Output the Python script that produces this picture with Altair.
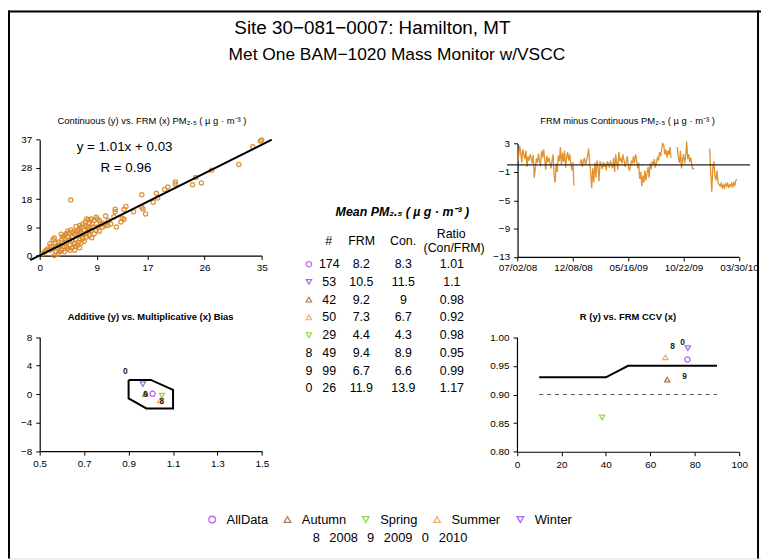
import altair as alt
import pandas as pd

W, H = 760, 553
FONT = "Liberation Sans"

# ---------------- data ----------------
SEASONS = ["AllData", "Autumn", "Spring", "Summer", "Winter"]
SEASON_COLORS = ["#A020F0", "#8B4513", "#66CC00", "#F08A24", "#8A2BE2"]
SEASON_SHAPES = ["circle", "triangle-up", "triangle-down", "triangle-up", "triangle-down"]

# Continuous (y) vs FRM (x)
frm_vals = [4.9, 33.6, 35.0, 34.8, 31.4, 27.1, 24.6, 24.1, 25.5, 21.4, 21.4, 20.2, 19.7, 18.4, 16.1, 18.6,
            17.9, 16.1, 16.3, 16.7, 14.8, 13.6, 13.3, 11.9, 11.9, 13.0, 13.3, 12.8, 12.1, 11.7, 10.4, 10.8,
            10.3, 9.6, 9.4, 9.1, 8.9, 8.1, 7.7, 7.4, 7.2, 6.8, 6.6, 6.3, 5.7, 5.2, 4.6, 4.2, 3.9, 3.4, 3.6,
            2.3, 2.1, 2.9, 1.6, 1.0, 1.6, 2.3, 2.6, 3.1, 3.4, 3.9, 4.4, 4.8, 5.1, 5.5, 6.0, 6.1, 6.5, 6.8,
            7.0, 7.4, 7.8, 8.2, 8.6, 8.9, 9.4, 9.9, 10.7, 11.2, 7.8, 7.0, 6.3, 5.7, 4.9, 4.4, 5.2, 4.7, 4.2,
            3.6, 3.1, 2.6, 2.1, 0.8, 0.5, 2.9, 4.2, 4.8, 5.7, 6.3, 6.5, 7.3, 8.1, 8.5, 9.1, 7.3, 5.5, 3.5,
            2.5, 1.8, 1.3, 4.4, 6.0, 6.8, 7.6, 8.3, 7.8, 8.6, 9.9, 5.1, 5.6, 6.3, 3.5, 3.9, 2.9, 5.5, 6.7, 7.6]
con_vals = [17.7, 34.7, 36.9, 36.6, 29.1, 27.2, 24.9, 22.6, 23.2, 23.5, 22.8, 21.9, 21.1, 19.9, 19.4, 18.4,
            17.0, 15.4, 14.9, 13.3, 14.0, 15.7, 14.7, 14.8, 14.0, 11.9, 11.6, 10.7, 9.1, 12.4, 12.6, 11.2,
            9.6, 10.1, 11.2, 11.7, 12.2, 11.7, 11.4, 11.7, 10.7, 10.1, 9.1, 8.5, 7.5, 7.5, 7.2, 7.0, 6.4, 6.8, 5.9,
            5.6, 5.1, 4.3, 3.8, 1.7, 1.7, 0.0, 1.2, 1.2, 1.9, 2.7, 2.2, 3.3, 2.5, 3.8, 3.3, 4.3, 4.0, 5.4,
            4.6, 5.9, 6.4, 5.7, 7.0, 8.0, 7.8, 9.1, 9.6, 10.1, 8.5, 8.0, 9.6, 9.3, 8.2, 7.8, 5.9, 5.1, 4.3,
            4.0, 3.3, 2.7, 2.2, 1.2, 0.6, 3.3, 2.7, 1.7, 5.1, 6.4, 7.5, 7.0, 8.0, 9.1, 9.1, 9.6, 6.8, 5.1,
            4.0, 3.0, 2.2, 5.9, 8.0, 7.0, 7.8, 10.1, 10.3, 11.2, 10.3, 4.9, 3.0, 2.5, 1.7, 1.2, 0.4, 1.7, 5.9, 9.1]
fit_slope, fit_intercept = 1.01, 0.03
fit_span = [-1.5, 36.6]

# FRM minus Continuous time series (1-in-3 day sampling, segments between gaps)
ts_ref = "2008-07-02"
ts_seg_starts = ["2008-07-02", "2008-12-29", "2009-10-04", "2010-01-05"]
ts_seg_values = [
    [0.5, 1.2, 2.7, 1.8, 0.3, 2.2, 1.5, 0.8, 2.0, -0.3,
     1.2, 0.6, 1.5, 1.0, 0.2, 1.4, -1.8, -0.5, 0.9, 0.3,
     1.6, 0.5, -0.2, 2.0, 1.0, 2.2, 0.8, -0.7, 1.3, 0.4,
     1.0, 0.2, -0.5, 0.6, 1.5, -1.5, -2.5, 0.2, -1.0, 1.3,
     0.5, 2.5, 0.0, 1.7, 0.4, 2.0, -0.4, 1.1, 1.8, 0.6,
     1.5, 0.2, -0.8, 0.4, -2.9],
    [0.2, 0.8, -0.3, 0.5, 1.0, 0.0, 0.6, 1.2, 2.3, 0.4, -1.0,
     -3.3, -0.5, -2.5, 0.3, -1.8, 0.6, -0.2, -2.3, 0.5, 0.0,
     -0.6, 0.4, -0.3, 0.2, -0.8, 0.5, 0.1, -0.4, 0.6, 0.0,
     -0.5, 1.0, -1.0, 1.5, 0.3, -0.7, 1.8, 0.5, 0.9, 0.2,
     1.5, 0.6, -0.3, 0.4, 1.2, 0.0, -0.8, -0.3, 0.5, 0.3,
     1.2, 0.2, 1.5, 0.8, -0.5, 0.3, -2.0, -1.0, -3.0, -1.5,
     -2.5, -0.8, -2.2, -1.2, -0.3, -1.8, 0.2, -0.6, 0.5, 0.0,
     0.8, -0.4, 0.3, 1.0, 0.6, 1.8, 1.2, 2.2, 3.0, 2.8,
     1.5, 2.2, 1.0, 2.0, 1.4, 2.5, 1.0],
    [2.5, 1.0, 0.3, 2.0, -0.5, 0.8, 1.5, 0.2, 1.2, 3.3, 0.8, 1.5, 0.4, 1.0, -0.2, -0.6, -0.5],
    [2.3, -1.0, -3.8, -0.5, 0.5, -1.5, -2.2, -0.8, -2.5, -2.8, -3.0, -2.6, -3.2, -2.8, -3.3,
     -2.7, -3.0, -2.5, -3.3, -2.8, -3.0, -2.6, -3.2, -2.4, -3.0, -2.2, -2.0],
]
ts_zero_span = [-30, 668]
ts_tick_days = [0, 159, 318, 477, 636]

# Additive vs multiplicative bias
bias_slope = [1.008, 0.975, 1.05, 1.042, 0.964]
bias_int = [0.05, 0.05, -0.2, -0.85, 1.4]
bias_year_lab = ["8", "9", "0"]
bias_year_x = [1.05, 0.976, 0.885]
bias_year_y = [-1.0, 0.05, 3.3]
poly_x = [0.9, 1.0, 1.1, 1.1, 0.98, 0.9, 0.9]
poly_y = [2.0, 2.0, 0.6, -2.0, -2.0, -0.6, 2.0]

# R vs FRM CCV
ccv_vals = [76.7, 67.6, 38.3, 66.8, 76.9]
r_vals = [0.961, 0.926, 0.86, 0.965, 0.981]
ccv_year_lab = ["8", "9", "0"]
ccv_year_x = [70.0, 75.4, 74.5]
ccv_year_y = [0.985, 0.933, 0.992]
goal_x = [10, 40, 50, 90]
goal_y = [0.93, 0.93, 0.95, 0.95]
dash_x = [10, 90]
dash_y = [0.9, 0.9]

# Table of means
tab_key = ["AllData", "Winter", "Autumn", "Summer", "Spring", "8", "9", "0"]
tab_n = [174, 53, 42, 50, 29, 49, 99, 26]
tab_frm = [8.2, 10.5, 9.2, 7.3, 4.4, 9.4, 6.7, 11.9]
tab_con = [8.3, 11.5, 9, 6.7, 4.3, 8.9, 6.6, 13.9]
tab_ratio = [1.01, 1.1, 0.98, 0.92, 0.98, 0.95, 0.99, 1.17]

year_legend = ["8", "2008", "9", "2009", "0", "2010"]

# ---------------- helpers ----------------
LEG = alt.Legend(orient="none", legendX=199.6, legendY=507, direction="horizontal", title=None,
                 labelFontSize=13, labelFont=FONT, labelColor="black", symbolSize=45,
                 symbolStrokeWidth=1.3, labelOffset=8, columnPadding=13, padding=0)
COLOR = alt.Color("season:N", scale=alt.Scale(domain=SEASONS, range=SEASON_COLORS), legend=LEG)
SHAPE = alt.Shape("season:N", scale=alt.Scale(domain=SEASONS, range=SEASON_SHAPES), legend=LEG)


def axis(values, orient, offset, fmt=None, expr=None, pad=3):
    kw = dict(values=values, orient=orient, offset=offset, title=None, grid=False,
              labelFlush=False, labelOverlap=False, tickSize=4, labelPadding=pad,
              domainColor="black", tickColor="black", labelColor="black",
              labelFontSize=10, labelFont=FONT, domainWidth=1.2, tickWidth=1)
    if fmt:
        kw["format"] = fmt
    if expr:
        kw["labelExpr"] = expr
    return alt.Axis(**kw)


def note(text, x, y, size=9.5, weight="normal", style="normal", align="center", baseline="middle"):
    return alt.Chart(pd.DataFrame({"t": [text]})).mark_text(
        font=FONT, fontSize=size, fontWeight=weight, fontStyle=style, align=align,
        baseline=baseline, color="black"
    ).encode(text="t:N", x=alt.value(x), y=alt.value(y))


# ---------------- panel 1: scatter ----------------
sc_df = pd.DataFrame({"frm": frm_vals, "con": con_vals})
fit_df = pd.DataFrame({"frm": fit_span, "con": [fit_slope * v + fit_intercept for v in fit_span]})
X1 = alt.X("frm:Q", scale=alt.Scale(domain=[0, 35], range=[32, 256], zero=False, nice=False),
           axis=axis([0, 9, 17, 26, 35], "bottom", 247.3 - H, fmt="d", pad=3))
Y1 = alt.Y("con:Q", scale=alt.Scale(domain=[0, 37], range=[247.3, 130.3], zero=False, nice=False),
           axis=axis([0, 9, 18, 28, 37], "left", -32, fmt="d", pad=4))
p1 = alt.layer(
    alt.Chart(sc_df).mark_point(shape="circle", filled=False, color="#DA8A2C", size=18, strokeWidth=1.3,
                                opacity=0.9).encode(x=X1, y=Y1),
    alt.Chart(fit_df).mark_line(color="black", strokeWidth=2).encode(x=X1, y=Y1),
)

# ---------------- panel 2: time series ----------------
ref = pd.Timestamp(ts_ref)
rows = []
for si, (start, vals) in enumerate(zip(ts_seg_starts, ts_seg_values)):
    d0 = (pd.Timestamp(start) - ref).days
    for i, v in enumerate(vals):
        rows.append({"day": d0 + 3 * i, "diff": v, "seg": si})
ts_df = pd.DataFrame(rows)
zero_df = pd.DataFrame({"day": ts_zero_span, "diff": [0, 0]})
X2 = alt.X("day:Q", scale=alt.Scale(domain=[0, 636], range=[514.3, 737.7], zero=False, nice=False),
           axis=axis(ts_tick_days, "bottom", 248.7 - H, pad=2,
                     expr="timeFormat(datetime(2008, 6, 2 + datum.value), '%m/%d/%y')"))
Y2 = alt.Y("diff:Q", scale=alt.Scale(domain=[-13, 3], range=[248.7, 134.3], zero=False, nice=False),
           axis=axis([3, -1, -5, -9, -13], "left", -514.3, fmt="d", pad=4))
p2 = alt.layer(
    alt.Chart(ts_df).mark_line(color="#DF8618", strokeWidth=1.3, opacity=0.9).encode(
        x=X2, y=Y2, detail="seg:N"),
    alt.Chart(zero_df).mark_line(color="#222222", strokeWidth=1.3).encode(x=X2, y=Y2),
)

# ---------------- panel 3: bias ----------------
bias_df = pd.DataFrame({"slope": bias_slope, "inter": bias_int, "season": SEASONS})
bias_yr = pd.DataFrame({"slope": bias_year_x, "inter": bias_year_y, "lab": bias_year_lab})
poly_df = pd.DataFrame({"slope": poly_x, "inter": poly_y, "i": list(range(len(poly_x)))})
X3 = alt.X("slope:Q", scale=alt.Scale(domain=[0.5, 1.5], range=[32, 256.3], zero=False, nice=False),
           axis=axis([0.5, 0.7, 0.9, 1.1, 1.3, 1.5], "bottom", 444.7 - H, fmt=".1f", pad=4))
Y3 = alt.Y("inter:Q", scale=alt.Scale(domain=[-8, 8], range=[444.7, 329.7], zero=False, nice=False),
           axis=axis([8, 4, 0, -4, -8], "left", -32, fmt="d", pad=4))
p3 = alt.layer(
    alt.Chart(poly_df).mark_line(color="black", strokeWidth=2).encode(x=X3, y=Y3, order="i:Q"),
    alt.Chart(bias_df).mark_point(filled=False, size=28, strokeWidth=1.3).encode(
        x=X3, y=Y3, color=COLOR, shape=SHAPE),
    alt.Chart(bias_yr).mark_text(font=FONT, fontSize=8.5, fontWeight="bold", color="#222222").encode(
        x=X3, y=Y3, text="lab:N"),
)

# ---------------- panel 4: R vs CCV ----------------
ccv_df = pd.DataFrame({"ccv": ccv_vals, "r": r_vals, "season": SEASONS})
ccv_yr = pd.DataFrame({"ccv": ccv_year_x, "r": ccv_year_y, "lab": ccv_year_lab})
goal_df = pd.DataFrame({"ccv": goal_x, "r": goal_y})
dash_df = pd.DataFrame({"ccv": dash_x, "r": dash_y})
X4 = alt.X("ccv:Q", scale=alt.Scale(domain=[0, 100], range=[513.7, 738], zero=False, nice=False),
           axis=axis([0, 20, 40, 60, 80, 100], "bottom", 445.3 - H, fmt="d", pad=4))
Y4 = alt.Y("r:Q", scale=alt.Scale(domain=[0.8, 1.0], range=[445.3, 329.7], zero=False, nice=False),
           axis=axis([1.0, 0.95, 0.9, 0.85, 0.8], "left", -513.7, fmt=".2f", pad=4))
p4 = alt.layer(
    alt.Chart(goal_df).mark_line(color="black", strokeWidth=2).encode(x=X4, y=Y4),
    alt.Chart(dash_df).mark_line(color="#555555", strokeWidth=1.2, strokeDash=[4, 4]).encode(x=X4, y=Y4),
    alt.Chart(ccv_df).mark_point(filled=False, size=28, strokeWidth=1.3).encode(
        x=X4, y=Y4, color=COLOR, shape=SHAPE),
    alt.Chart(ccv_yr).mark_text(font=FONT, fontSize=8.5, fontWeight="bold", color="#222222").encode(
        x=X4, y=Y4, text="lab:N"),
)

# ---------------- table ----------------
tab_df = pd.DataFrame({"row": list(range(len(tab_key))), "key": tab_key, "n": tab_n,
                       "frm": tab_frm, "con": tab_con, "ratio": tab_ratio})
tab_df["season"] = tab_df["key"].where(tab_df["key"].isin(SEASONS))
YR = alt.Y("row:O", scale=alt.Scale(type="point", range=[256, 381.3], padding=0), axis=None)
tab_layers = [
    alt.Chart(tab_df).transform_filter("isValid(datum.season)").mark_point(
        filled=False, size=30, strokeWidth=1.2).encode(
        x=alt.value(303.7), y=YR, color=COLOR, shape=SHAPE),
    alt.Chart(tab_df).transform_filter("!isValid(datum.season)").mark_text(
        font=FONT, fontSize=12.5, color="black").encode(x=alt.value(303.7), y=YR, text="key:N"),
]
for field, xpos in [("n", 324.2), ("frm", 356.6), ("con", 399), ("ratio", 448)]:
    tab_layers.append(
        alt.Chart(tab_df).mark_text(font=FONT, fontSize=12.5, color="black").encode(
            x=alt.value(xpos), y=YR, text=f"{field}:N"))
table = alt.layer(*tab_layers)

# ---------------- annotations ----------------
notes = [
    note("Site 30\u2212081\u22120007: Hamilton, MT", 367.8, 23.5, size=19, baseline="alphabetic"),
    note("Met One BAM\u22121020 Mass Monitor w/VSCC", 392.5, 50.3, size=17.5, baseline="alphabetic"),
    note("Continuous (y) vs. FRM (x) PM\u2082.\u2085 ( \u00b5 g \u00b7 m\u207b\u00b3 )", 145.3, 112),
    note("FRM minus Continuous PM\u2082.\u2085 ( \u00b5 g \u00b7 m\u207b\u00b3 )", 625.3, 112),
    note("Additive (y) vs. Multiplicative (x) Bias", 144, 309.3, weight="bold"),
    note("R (y) vs. FRM CCV (x)", 625.7, 309.3, weight="bold"),
    note("y = 1.01x + 0.03", 117.7, 138, size=13.5),
    note("R  = 0.96", 119, 159.3, size=13.5),
    note("Mean PM\u2082.\u2085 ( \u00b5 g \u00b7 m\u207b\u00b3 )", 398, 203.7, size=12.5, weight="bold",
         style="italic"),
    note("#", 323.7, 232.7, size=12.5),
    note("FRM", 357, 232.7, size=12.5),
    note("Con.", 398.7, 232.7, size=12.5),
    note("Ratio", 447.3, 225.3, size=12.5),
    note("(Con/FRM)", 450.3, 239.7, size=12.5),
]
for tok, xpos in zip(year_legend, [311.3, 338.8, 366, 393.8, 421.3, 449.2]):
    notes.append(note(tok, xpos, 532.4, size=13))

one = pd.DataFrame({"a": [0]})
border = [
    alt.Chart(one).mark_rule(color="black", strokeWidth=2).encode(x=alt.value(1)),
    alt.Chart(one).mark_rule(color="black", strokeWidth=2).encode(y=alt.value(1)),
    alt.Chart(one).mark_rule(color="black", strokeWidth=2).encode(x=alt.value(757)),
]

chart = alt.layer(*border, p1, p2, p3, p4, table, *notes).resolve_scale(
    x="independent", y="independent"
).properties(
    width=W, height=H, autosize=alt.AutoSizeParams(type="none"), padding=0
).configure_view(stroke="transparent", strokeWidth=0).configure(font=FONT, background="white")

chart.save("out.html", embed_options={"renderer": "svg", "actions": False})
